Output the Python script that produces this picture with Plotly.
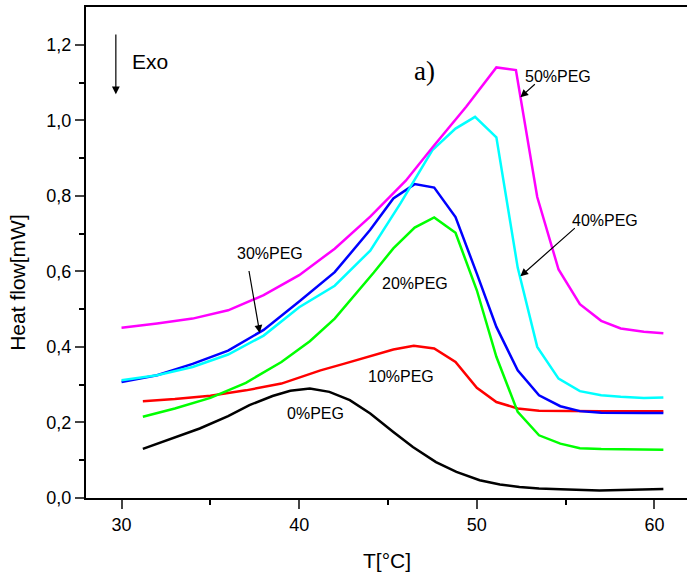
import plotly.graph_objects as go

# ---- data (T in °C, heat flow in mW) ----
t_0 = [31.2, 33.0, 34.4, 36.0, 37.2, 38.5, 39.5, 40.6, 41.7, 42.85, 44.0, 45.3, 46.4, 47.7, 48.85,
       50.16, 51.3, 52.4, 53.5, 54.7, 55.8, 56.9, 58.1, 59.4, 60.5]
hf_0 = [0.130, 0.160, 0.184, 0.217, 0.246, 0.270, 0.284, 0.290, 0.281, 0.259, 0.224, 0.175, 0.135,
        0.095, 0.069, 0.047, 0.036, 0.029, 0.025, 0.023, 0.021, 0.020, 0.021, 0.023, 0.024]

t_10 = [31.2, 33.0, 35.0, 37.0, 39.0, 40.0, 41.2, 42.5, 44.0, 45.3, 46.45, 47.6, 48.8, 50.0, 51.1,
        52.3, 53.5, 54.7, 55.8, 57.0, 58.1, 59.4, 60.5]
hf_10 = [0.256, 0.262, 0.271, 0.285, 0.303, 0.319, 0.338, 0.355, 0.375, 0.393, 0.403, 0.396, 0.360,
         0.292, 0.254, 0.237, 0.231, 0.230, 0.230, 0.230, 0.230, 0.230, 0.230]

t_20 = [31.2, 33.0, 35.0, 37.0, 39.0, 40.6, 42.0, 43.0, 44.2, 45.3, 46.5, 47.6, 48.8, 50.0, 51.1,
        52.3, 53.5, 54.7, 55.8, 57.0, 58.1, 59.4, 60.5]
hf_20 = [0.215, 0.237, 0.265, 0.305, 0.360, 0.415, 0.475, 0.530, 0.597, 0.661, 0.716, 0.743, 0.702,
         0.550, 0.374, 0.228, 0.166, 0.144, 0.132, 0.130, 0.129, 0.128, 0.128]

t_30 = [30.0, 32.0, 34.0, 36.0, 38.0, 40.0, 42.0, 44.0, 45.3, 46.5, 47.6, 48.8, 50.0, 51.1, 52.3,
        53.5, 54.7, 55.8, 57.0, 58.1, 59.4, 60.5]
hf_30 = [0.307, 0.325, 0.355, 0.390, 0.445, 0.520, 0.598, 0.710, 0.793, 0.831, 0.822, 0.744, 0.594,
         0.453, 0.338, 0.272, 0.243, 0.230, 0.226, 0.225, 0.225, 0.225]

t_40 = [30.0, 32.0, 34.0, 36.0, 38.0, 40.0, 42.0, 44.0, 45.7, 47.5, 48.8, 49.9, 51.1, 52.3, 53.4,
        54.6, 55.8, 57.0, 58.1, 59.4, 60.5]
hf_40 = [0.312, 0.325, 0.347, 0.380, 0.430, 0.505, 0.562, 0.655, 0.780, 0.921, 0.978, 1.009, 0.955,
         0.610, 0.400, 0.316, 0.283, 0.272, 0.268, 0.265, 0.266]

t_50 = [30.0, 32.0, 34.0, 36.0, 38.0, 40.0, 42.0, 44.0, 46.0, 47.5, 49.4, 51.1, 52.2, 53.4, 54.6,
        55.8, 57.0, 58.1, 59.4, 60.5]
hf_50 = [0.451, 0.462, 0.475, 0.497, 0.537, 0.590, 0.660, 0.745, 0.840, 0.928, 1.036, 1.140, 1.133,
         0.797, 0.605, 0.513, 0.469, 0.449, 0.440, 0.436]

series = [
    ("0%PEG", t_0, hf_0, "#000000"),
    ("10%PEG", t_10, hf_10, "#FF0000"),
    ("20%PEG", t_20, hf_20, "#00FF00"),
    ("30%PEG", t_30, hf_30, "#0000FF"),
    ("40%PEG", t_40, hf_40, "#00FFFF"),
    ("50%PEG", t_50, hf_50, "#FF00FF"),
]

x_ticks = [30, 40, 50, 60]
y_ticks = [0.0, 0.2, 0.4, 0.6, 0.8, 1.0, 1.2]
y_tick_text = ["0,0", "0,2", "0,4", "0,6", "0,8", "1,0", "1,2"]

FONT = "Liberation Sans, Arial, sans-serif"

fig = go.Figure()
for name, xs, ys, col in series:
    fig.add_trace(go.Scatter(x=xs, y=ys, mode="lines", name=name,
                             line=dict(color=col, width=2.5), showlegend=False))

fig.update_layout(
    width=688, height=579,
    margin=dict(l=86, r=1, t=7, b=81),
    paper_bgcolor="white", plot_bgcolor="white",
    font=dict(family=FONT, color="black"),
)
fig.update_xaxes(
    range=[28, 61.83], tickvals=x_ticks, ticks="outside", ticklen=9, tickwidth=2,
    showline=True, linewidth=2, linecolor="black", mirror=True, showgrid=False, zeroline=False,
    tickfont=dict(size=18, family=FONT),
    minor=dict(tickvals=[35, 45, 55], ticks="outside", ticklen=5, tickwidth=2, tickcolor="black"),
)
fig.update_yaxes(
    range=[0, 1.3], tickvals=y_ticks, ticktext=y_tick_text, ticks="outside", ticklen=9, tickwidth=2,
    showline=True, linewidth=2, linecolor="black", mirror=False, showgrid=False, zeroline=False,
    tickfont=dict(size=18, family=FONT),
    minor=dict(tickvals=[0.1, 0.3, 0.5, 0.7, 0.9, 1.1], ticks="outside", ticklen=5, tickwidth=2,
               tickcolor="black"),
)

ann = []
# axis titles
ann.append(dict(text="T[°C]", xref="paper", yref="paper", x=0.5, y=-0.128, xanchor="center",
                yanchor="middle", showarrow=False, font=dict(size=21, family=FONT)))
ann.append(dict(text="Heat flow[mW]", xref="paper", x=-0.113, yref="y", y=0.57, textangle=-90,
                xanchor="center", yanchor="middle", showarrow=False, font=dict(size=21, family=FONT)))
# Exo arrow + text
ann.append(dict(x=29.68, y=1.069, ax=29.68, ay=1.231, xref="x", yref="y", axref="x", ayref="y",
                text="", showarrow=True, arrowhead=2, arrowsize=1.3, arrowwidth=1.2, arrowcolor="black"))
ann.append(dict(x=31.6, y=1.156, text="Exo", showarrow=False, font=dict(size=21, family=FONT)))
ann.append(dict(x=47.07, y=1.130, text="a)", showarrow=False,
                font=dict(size=27, family="Liberation Serif, Times New Roman, serif")))
# curve labels
for txt, x, y in [("50%PEG", 54.58, 1.117), ("40%PEG", 57.2, 0.736), ("30%PEG", 38.35, 0.648),
                  ("20%PEG", 46.5, 0.569), ("10%PEG", 45.75, 0.322), ("0%PEG", 40.93, 0.224)]:
    ann.append(dict(x=x, y=y, text=txt, showarrow=False, font=dict(size=16, family=FONT)))
# label arrows
for (hx, hy, tx, ty) in [(52.45, 1.061, 53.35, 1.099), (52.45, 0.587, 55.6, 0.718),
                         (37.78, 0.437, 37.16, 0.605)]:
    ann.append(dict(x=hx, y=hy, ax=tx, ay=ty, xref="x", yref="y", axref="x", ayref="y", text="",
                    showarrow=True, arrowhead=2, arrowsize=1.3, arrowwidth=1.2, arrowcolor="black"))
fig.update_layout(annotations=ann)

fig.write_html("out.html", config={"displayModeBar": False},
               post_script="document.body.style.margin='0';document.body.style.overflow='hidden';")
